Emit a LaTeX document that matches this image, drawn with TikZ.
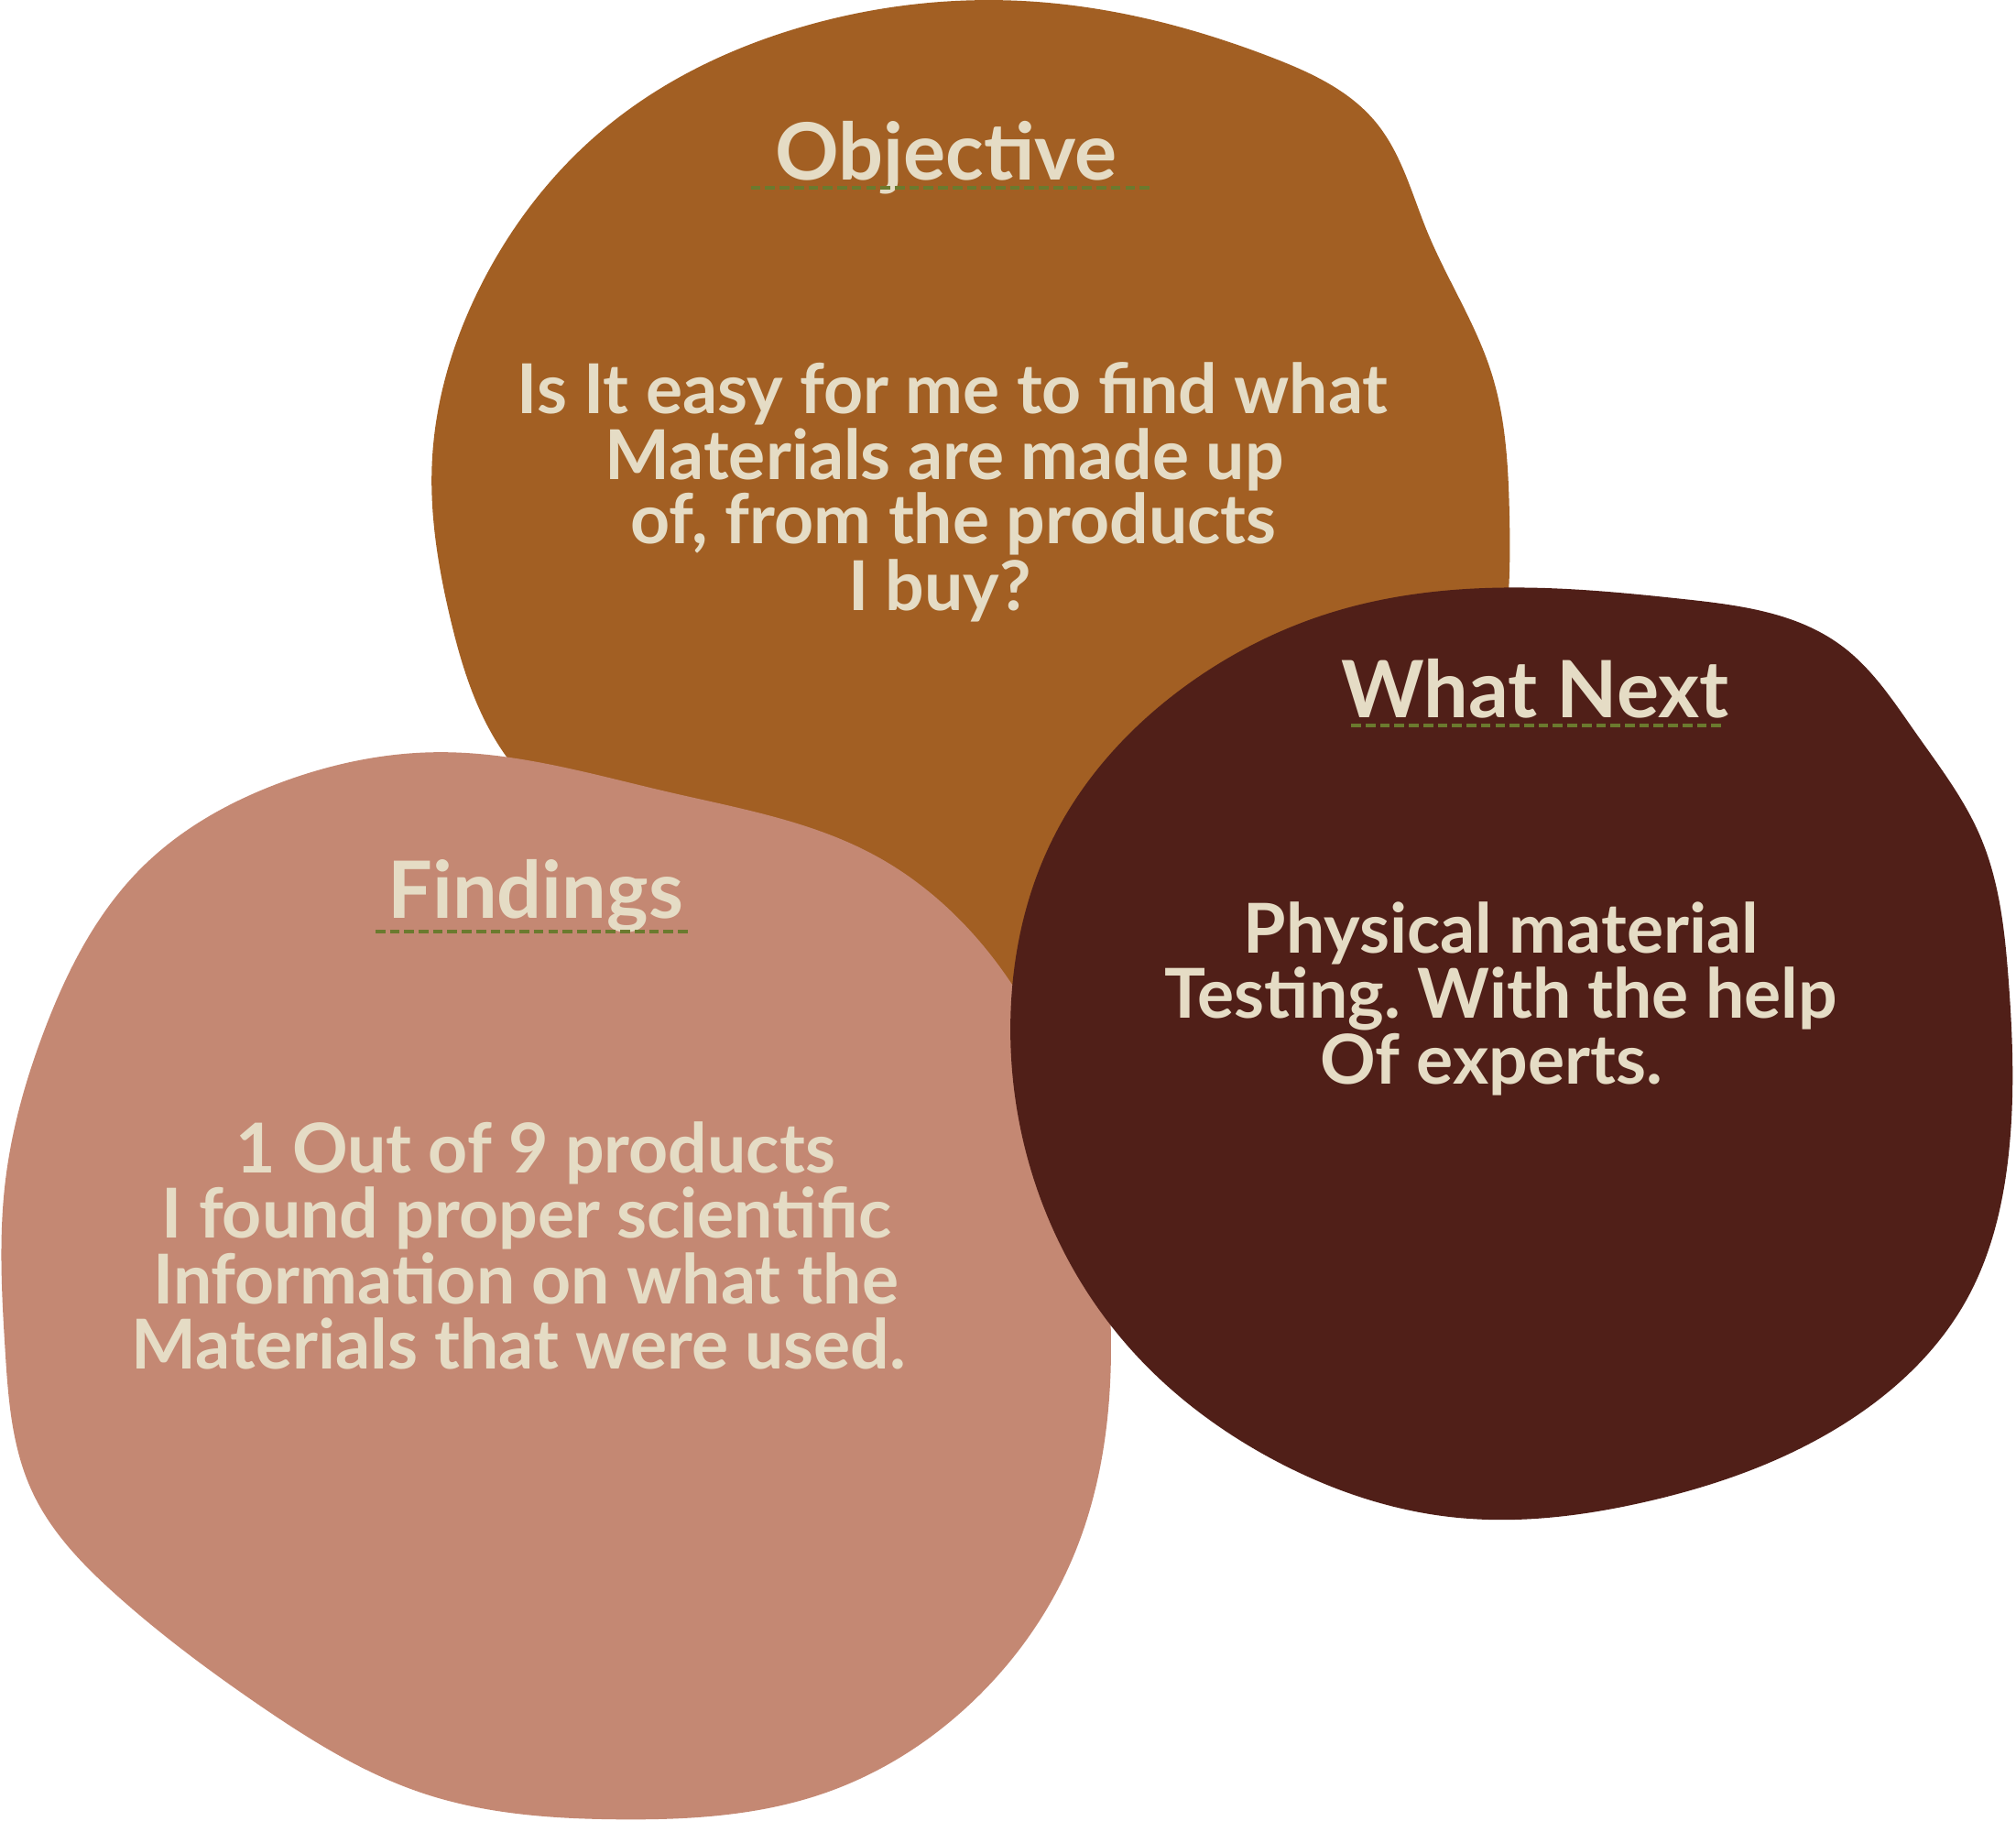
\documentclass[tikz,border=0pt]{standalone}
\usepackage{fontspec}
\setmainfont{Lato}
\usetikzlibrary{hobby}
\definecolor{objcol}{HTML}{A25F23}
\definecolor{findcol}{HTML}{C48873}
\definecolor{nextcol}{HTML}{501F18}
\definecolor{txtcol}{HTML}{E5DCC5}
\definecolor{dashcol}{HTML}{6B7A2E}
\frenchspacing
\begin{document}
\begin{tikzpicture}[x=1pt,y=-1pt,
  head/.style={text=txtcol, font=\fontsize{61.5}{62}\selectfont\bfseries, inner sep=0pt, anchor=base},
  body/.style={text=txtcol, font=\fontsize{53.5}{54}\selectfont\bfseries\frenchspacing, inner sep=0pt, anchor=base},
  uline/.style={draw=dashcol, line width=2.9pt, dash pattern=on 7.6pt off 3.6pt}]
\useasboundingbox (0,0) rectangle (1568,1415.6);
% Objective blob
\fill[objcol] plot[closed hobby] coordinates {
 (336,360) (375,220) (470,100) (620,22) (800,1) (990,45) (1070,95)
 (1110,180) (1160,290) (1174,400) (1150,560) (1000,700) (800,780) (560,700) (395,590) (350,480)};
% Findings blob
\fill[findcol] plot[closed hobby] coordinates {
 (342,585) (520,616) (680,665) (790,770) (850,920) (864,1060)
 (835,1210) (760,1320) (640,1395) (480,1415) (330,1395) (200,1325)
 (90,1240) (25,1160) (4,1050) (4,920) (35,800) (110,675) (220,608)};
% What Next blob
\fill[nextcol] plot[closed hobby] coordinates {
 (1170,457) (1310,466) (1432,502) (1490,570) (1540,650) (1562,760)
 (1562,900) (1530,1010) (1430,1110) (1280,1168) (1130,1180) (990,1135)
 (880,1050) (805,920) (786,790) (820,650) (920,535) (1040,475)};
% Objective
\node[head] (objhead) at (736,140) {Objective};
\coordinate (objL) at (584,146); \coordinate (objR) at (896,146);
\draw[uline] (objL) -- (objR);
\node[body] (obj1) at (741,322) {Is It easy for me to find what};
\node[body] (obj2) at (734.5,373) {Materials are made up};
\node[body] (obj3) at (741.5,423) {of, from the products};
\node[body] (obj4) at (731,475) {I buy?};
% Findings
\node[head] (findhead) at (416.5,714) {Findings};
\coordinate (findL) at (292,724.3); \coordinate (findR) at (538,724.3);
\draw[uline] (findL) -- (findR);
\node[body] (find1) at (416.5,912) {1 Out of 9 products};
\node[body] (find2) at (409.5,963) {I found proper scientific};
\node[body] (find3) at (409,1014) {Information on what the};
\node[body] (find4) at (403.5,1065) {Materials that were used.};
% What Next
\node[head] (nexthead) at (1194,558) {What Next};
\coordinate (nextL) at (1051,564); \coordinate (nextR) at (1341.5,564);
\draw[uline] (nextL) -- (nextR);
\node[body] (next1) at (1167.5,741) {Physical material};
\node[body] (next2) at (1167.5,792) {Testing. With the help};
\node[body] (next3) at (1160,843) {Of experts.};
\end{tikzpicture}
\end{document}
